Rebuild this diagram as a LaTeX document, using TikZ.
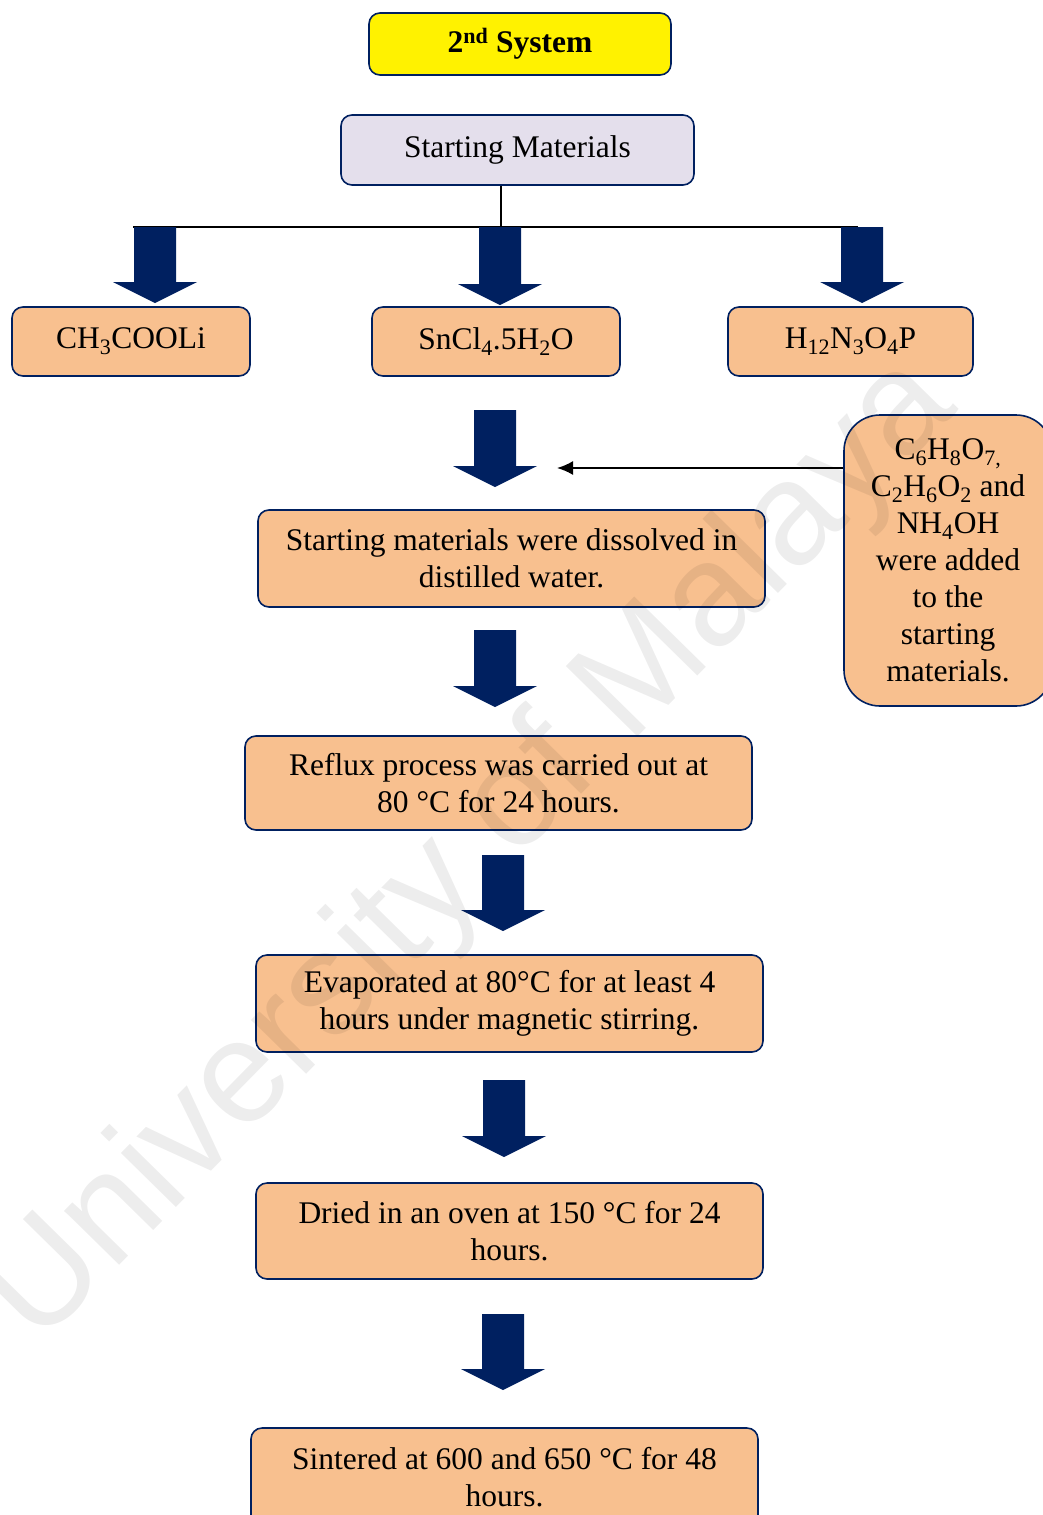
\documentclass[tikz,border=0pt]{standalone}
\usepackage{xcolor}
\usepackage{fontspec}
\setmainfont{Liberation Serif}
\newfontfamily\wmfont{Liberation Sans}
\usepackage{tikz}
\usetikzlibrary{arrows.meta}
\definecolor{navy}{HTML}{002060}
\definecolor{peach}{HTML}{F8C08F}
\definecolor{lilac}{HTML}{E4DFEC}
\tikzset{
	box/.style={draw=navy, line width=1.6pt, fill=peach, rounded corners=11pt, align=center, inner sep=0pt, font=\fontsize{31.5}{37}\selectfont},
	fatarrow/.style={fill=navy},
}
\begin{document}
\begin{tikzpicture}[x=1pt,y=-1pt]
	\useasboundingbox (0,0) rectangle (1043,1515);
	\node[box, fill=yellow, minimum width=302pt, minimum height=62pt, font=\bfseries\fontsize{31.5}{37}\selectfont] (title) at (520,44) {2\textsuperscript{nd} System};
	\node[box, fill=lilac, minimum width=353pt, minimum height=70pt] (start) at (517.5,150) {Starting Materials};
	\node[box, minimum width=238pt, minimum height=69pt] (li) at (131,341.5) {CH\textsubscript{3}COOLi};
	\node[box, minimum width=248pt, minimum height=69pt] (sn) at (496,341.5) {SnCl\textsubscript{4}.5H\textsubscript{2}O};
	\node[box, minimum width=245pt, minimum height=69pt] (nh) at (850.5,341.5) {H\textsubscript{12}N\textsubscript{3}O\textsubscript{4}P};
	\node[box, rounded corners=36pt, minimum width=208pt, minimum height=291pt] (added) at (948,560.5) {C\textsubscript{6}H\textsubscript{8}O\textsubscript{7,}\\C\textsubscript{2}H\textsubscript{6}O\textsubscript{2} and\\NH\textsubscript{4}OH\\were added\\to the\\starting\\materials.};
	\node[box, minimum width=507pt, minimum height=97pt] (dissolve) at (511.5,558.5) {Starting materials were dissolved in\\distilled water.};
	\node[box, minimum width=507pt, minimum height=94pt] (reflux) at (498.5,783) {Reflux process was carried out at\\80 °C for 24 hours.};
	\node[box, minimum width=507pt, minimum height=97pt] (evap) at (509.5,1003.5) {Evaporated at 80°C for at least 4\\hours under magnetic stirring.};
	\node[box, minimum width=507pt, minimum height=96pt] (dried) at (509.5,1231) {Dried in an oven at 150 °C for 24\\hours.};
	\node[box, minimum width=507pt, minimum height=98pt] (sinter) at (504.5,1477) {Sintered at 600 and 650 °C for 48\\hours.};
	\coordinate (fork) at (501,227);
	\coordinate (tipA) at (557,468);
	\draw[line width=1.6pt] (start.south -| fork) -- (fork);
	\draw[line width=1.6pt] (133,227) -- (858,227);
	\draw[line width=1.8pt, -{Latex[length=16pt,width=14pt]}] (added.west |- tipA) -- (tipA);
	\foreach \x/\ya/\yb in {155/227/303, 500/227/305, 862/227/303, 495/410/487, 495/630/707, 503/855/931, 504/1080/1157, 503/1314/1390}
		\fill[fatarrow] (\x-21,\ya) -- (\x+21,\ya) -- (\x+21,\yb-21) -- (\x+42,\yb-21) -- (\x,\yb) -- (\x-42,\yb-21) -- (\x-21,\yb-21) -- cycle;
	\node[rotate=45.5, text=black, opacity=0.07, font=\wmfont\fontsize{146}{146}\selectfont] (mark) at (472,852) {University of Malaya};
\end{tikzpicture}
\end{document}
